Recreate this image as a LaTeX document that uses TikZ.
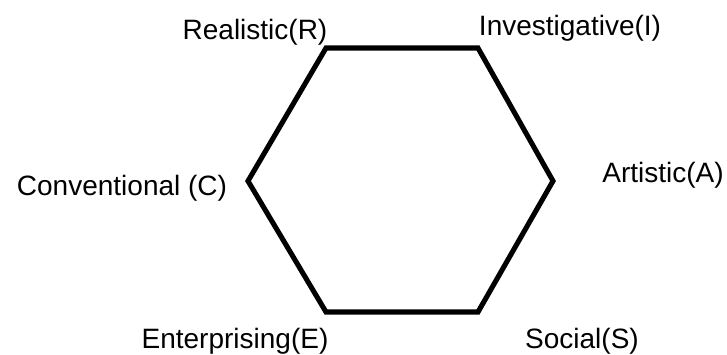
\documentclass[tikz,border=0pt]{standalone}
\usepackage{fontspec}
\setmainfont{Liberation Sans}
\usepackage{tikz}
\usetikzlibrary{positioning}
\tikzset{
  hexline/.style ={draw=black, line width=3.8pt, line join=miter},
  lbl/.style     ={font=\fontsize{21}{25}\selectfont, inner sep=0pt, anchor=base}
}

\begin{document}
\begin{tikzpicture}[x=0.75pt, y=-0.75pt]
  \useasboundingbox (0,0) rectangle (727,354);
  % corners of the hexagon
  \coordinate (vR) at (326, 48);
  \coordinate (vI) at (478, 48);
  \coordinate (vA) at (553,181);
  \coordinate (vS) at (478,312);
  \coordinate (vE) at (326,312);
  \coordinate (vC) at (248,181);
  \draw[hexline] (vR) -- (vI) -- (vA) -- (vS) -- (vE) -- (vC) -- cycle;
  % the six types
  \node[lbl] (real) at (255, 39) {Realistic(R)};
  \node[lbl] (inv)  at (570, 35) {Investigative(I)};
  \node[lbl] (art)  at (663,182) {Artistic(A)};
  \node[lbl] (soc)  at (582,348) {Social(S)};
  \node[lbl] (ent)  at (235,348) {Enterprising(E)};
  \node[lbl] (conv) at (122,195) {Conventional (C)};
\end{tikzpicture}
\end{document}
